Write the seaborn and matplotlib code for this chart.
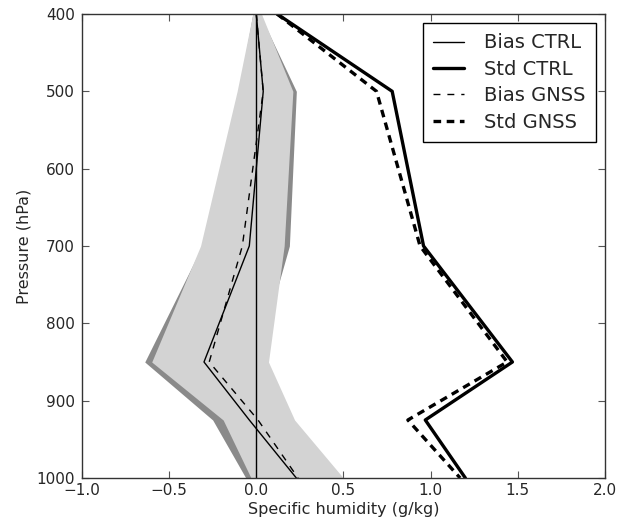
import matplotlib
matplotlib.use("Agg")
import matplotlib.pyplot as plt
import seaborn as sns
import pandas as pd

# Data
levels = [400, 500, 700, 850, 925, 1000]
bias_ctrl = [0.00, 0.04, -0.04, -0.30, -0.04, 0.23]
std_ctrl = [0.12, 0.78, 0.96, 1.47, 0.97, 1.20]
bias_gnss = [0.00, 0.04, -0.08, -0.27, 0.01, 0.24]
std_gnss = [0.12, 0.69, 0.94, 1.44, 0.87, 1.17]

ctrl_lo = [-0.02, -0.10, -0.31, -0.64, -0.25, -0.06]
ctrl_hi = [0.02, 0.23, 0.19, 0.00, 0.18, 0.45]
gnss_lo = [-0.02, -0.11, -0.32, -0.60, -0.19, -0.03]
gnss_hi = [0.03, 0.21, 0.16, 0.07, 0.22, 0.50]

xticks = [-1.0, -0.5, 0.0, 0.5, 1.0, 1.5, 2.0]
yticks = [400, 500, 600, 700, 800, 900, 1000]

sns.set_style("ticks")
plt.rcParams["font.family"] = ["DejaVu Sans"]
plt.rcParams["xtick.direction"] = "in"
plt.rcParams["ytick.direction"] = "in"
plt.rcParams["xtick.top"] = True
plt.rcParams["ytick.right"] = True
plt.rcParams["lines.scale_dashes"] = False

fig = plt.figure(figsize=(6.19, 5.28), dpi=100)
ax = fig.add_axes([0.1325, 0.0947, 0.8445, 0.8788])

ax.fill_betweenx(levels, ctrl_lo, ctrl_hi, color="#8a8a8a", lw=0, zorder=1)
ax.fill_betweenx(levels, gnss_lo, gnss_hi, color="#d3d3d3", lw=0, zorder=2)
ax.axvline(0, color="black", lw=1.0, zorder=3)

df = pd.DataFrame({
    "p": levels,
    "bias_ctrl": bias_ctrl, "std_ctrl": std_ctrl,
    "bias_gnss": bias_gnss, "std_gnss": std_gnss,
})

sns.lineplot(data=df, x="bias_ctrl", y="p", orient="y", sort=False, ax=ax,
             color="black", lw=1.0, label="Bias CTRL", zorder=4)
sns.lineplot(data=df, x="std_ctrl", y="p", orient="y", sort=False, ax=ax,
             color="black", lw=2.4, label="Std CTRL", zorder=4)
sns.lineplot(data=df, x="bias_gnss", y="p", orient="y", sort=False, ax=ax,
             color="black", lw=1.0, label="Bias GNSS", zorder=4)
sns.lineplot(data=df, x="std_gnss", y="p", orient="y", sort=False, ax=ax,
             color="black", lw=2.4, label="Std GNSS", zorder=4)
ax.lines[3].set_dashes((5, 5))
ax.lines[4].set_dashes((5.5, 4))

ax.set_xlim(-1.0, 2.0)
ax.set_ylim(1000, 400)
ax.set_xticks(xticks)
ax.set_xticklabels([f"{t:.1f}".replace("-", "\u2212") for t in xticks])
ax.set_yticks(yticks)
ax.set_yticklabels([str(t) for t in yticks])
ax.tick_params(labelsize=11, length=5, width=0.8, color="#555555")
ax.tick_params(axis="y", pad=5)
for s in ax.spines.values():
    s.set_linewidth(1.0)
    s.set_color("#333333")
    s.set_zorder(5)

ax.set_xlabel("Specific humidity (g/kg)", fontsize=11.5, labelpad=3)
ax.set_ylabel("Pressure (hPa)", fontsize=11.5, labelpad=4)

handles, labels = ax.get_legend_handles_labels()
leg = ax.legend(handles, labels, loc="upper right", fontsize=14, frameon=True,
                fancybox=False, edgecolor="black", framealpha=1,
                handlelength=1.6, handletextpad=1.0, borderaxespad=0.45,
                labelspacing=0.38, borderpad=0.55)
leg.get_frame().set_linewidth(1.0)

fig.savefig("out.png", dpi=100)
